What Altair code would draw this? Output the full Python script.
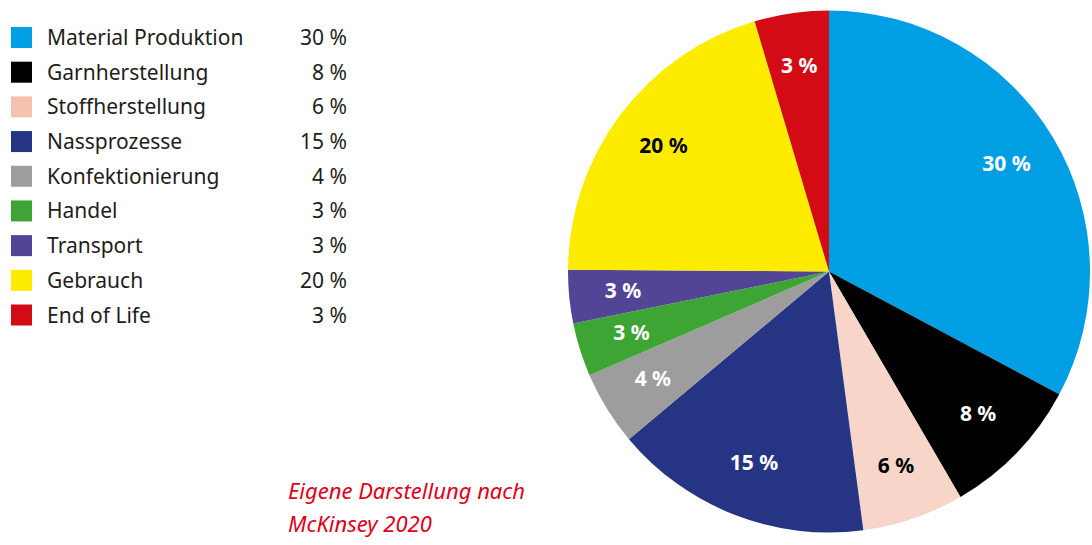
import altair as alt
import pandas as pd

# ---- data -------------------------------------------------------------
categories = ["Material Produktion", "Garnherstellung", "Stoffherstellung",
              "Nassprozesse", "Konfektionierung", "Handel", "Transport",
              "Gebrauch", "End of Life"]
values = [30, 8, 6, 15, 4, 3, 3, 20, 3]                 # printed percentages
shares = [32.8, 8.8, 6.3, 16.0, 4.6, 3.3, 3.3, 20.3, 4.6]  # slice sizes as drawn
caption = ["Eigene Darstellung nach", "McKinsey 2020"]

# ---- styles -----------------------------------------------------------
slice_colors = ["#009FE3", "#000000", "#F7D6C9", "#263583", "#9C9D9C",
                "#3EA535", "#524596", "#FEEC00", "#D30B15"]
swatch_colors = ["#009FE3", "#000000", "#F4C2AF", "#263583", "#9C9D9C",
                 "#3EA535", "#524596", "#FEEC00", "#D30B15"]
label_colors = ["white", "white", "black", "white", "white",
                "white", "white", "black", "white"]
FONT = "Noto Sans"
TEXT = "#1d1d1b"

pct = [f"{v} %" for v in values]

leg_df = pd.DataFrame({"cat": categories, "pct": pct, "swatch": swatch_colors})
pie_df = pd.DataFrame({"cat": categories, "share": shares, "idx": list(range(len(categories))),
                       "lbl": pct, "lc": label_colors, "col": slice_colors})
cap_df = pd.DataFrame({"t": [caption]})

# ---- legend panel -----------------------------------------------------
yscale = alt.Scale(type="point", domain=categories, range=[37.5, 315], padding=0)
leg_base = alt.Chart(leg_df).encode(y=alt.Y("cat:N", scale=yscale, axis=None))
swatches = leg_base.mark_square(size=441, filled=True, opacity=1).encode(
    x=alt.value(21.5), color=alt.Color("swatch:N", scale=None))
names = leg_base.mark_text(align="left", baseline="middle", font=FONT, fontSize=21,
                           color=TEXT, dy=1.5).encode(x=alt.value(47), text="cat:N")
percents = leg_base.mark_text(align="right", baseline="middle", font=FONT, fontSize=21,
                              color=TEXT, dy=1.5).encode(x=alt.value(347), text="pct:N")
cap = alt.Chart(cap_df).mark_text(align="left", baseline="middle", font=FONT, fontSize=22,
                                  fontStyle="italic", color="#E2001A", lineHeight=33.5).encode(
    x=alt.value(288), y=alt.value(491.5), text="t")

legend_panel = alt.layer(swatches, names, percents, cap).properties(width=568, height=543)

# ---- pie panel --------------------------------------------------------
base = alt.Chart(pie_df).encode(
    theta=alt.Theta("share:Q", stack=True),
    order=alt.Order("idx:Q", sort="ascending"))
arcs = base.mark_arc(outerRadius=261).encode(color=alt.Color("col:N", scale=None))
labels = base.mark_text(radius=207, font=FONT, fontSize=21, fontWeight="bold").encode(
    text="lbl:N", color=alt.Color("lc:N", scale=None))
pie_panel = alt.layer(arcs, labels).properties(width=522, height=543)

chart = alt.hconcat(legend_panel, pie_panel, spacing=0).properties(
    padding=0, background="white").configure_view(stroke=None)

chart.save("out.html", embed_options={"renderer": "svg", "actions": False})
